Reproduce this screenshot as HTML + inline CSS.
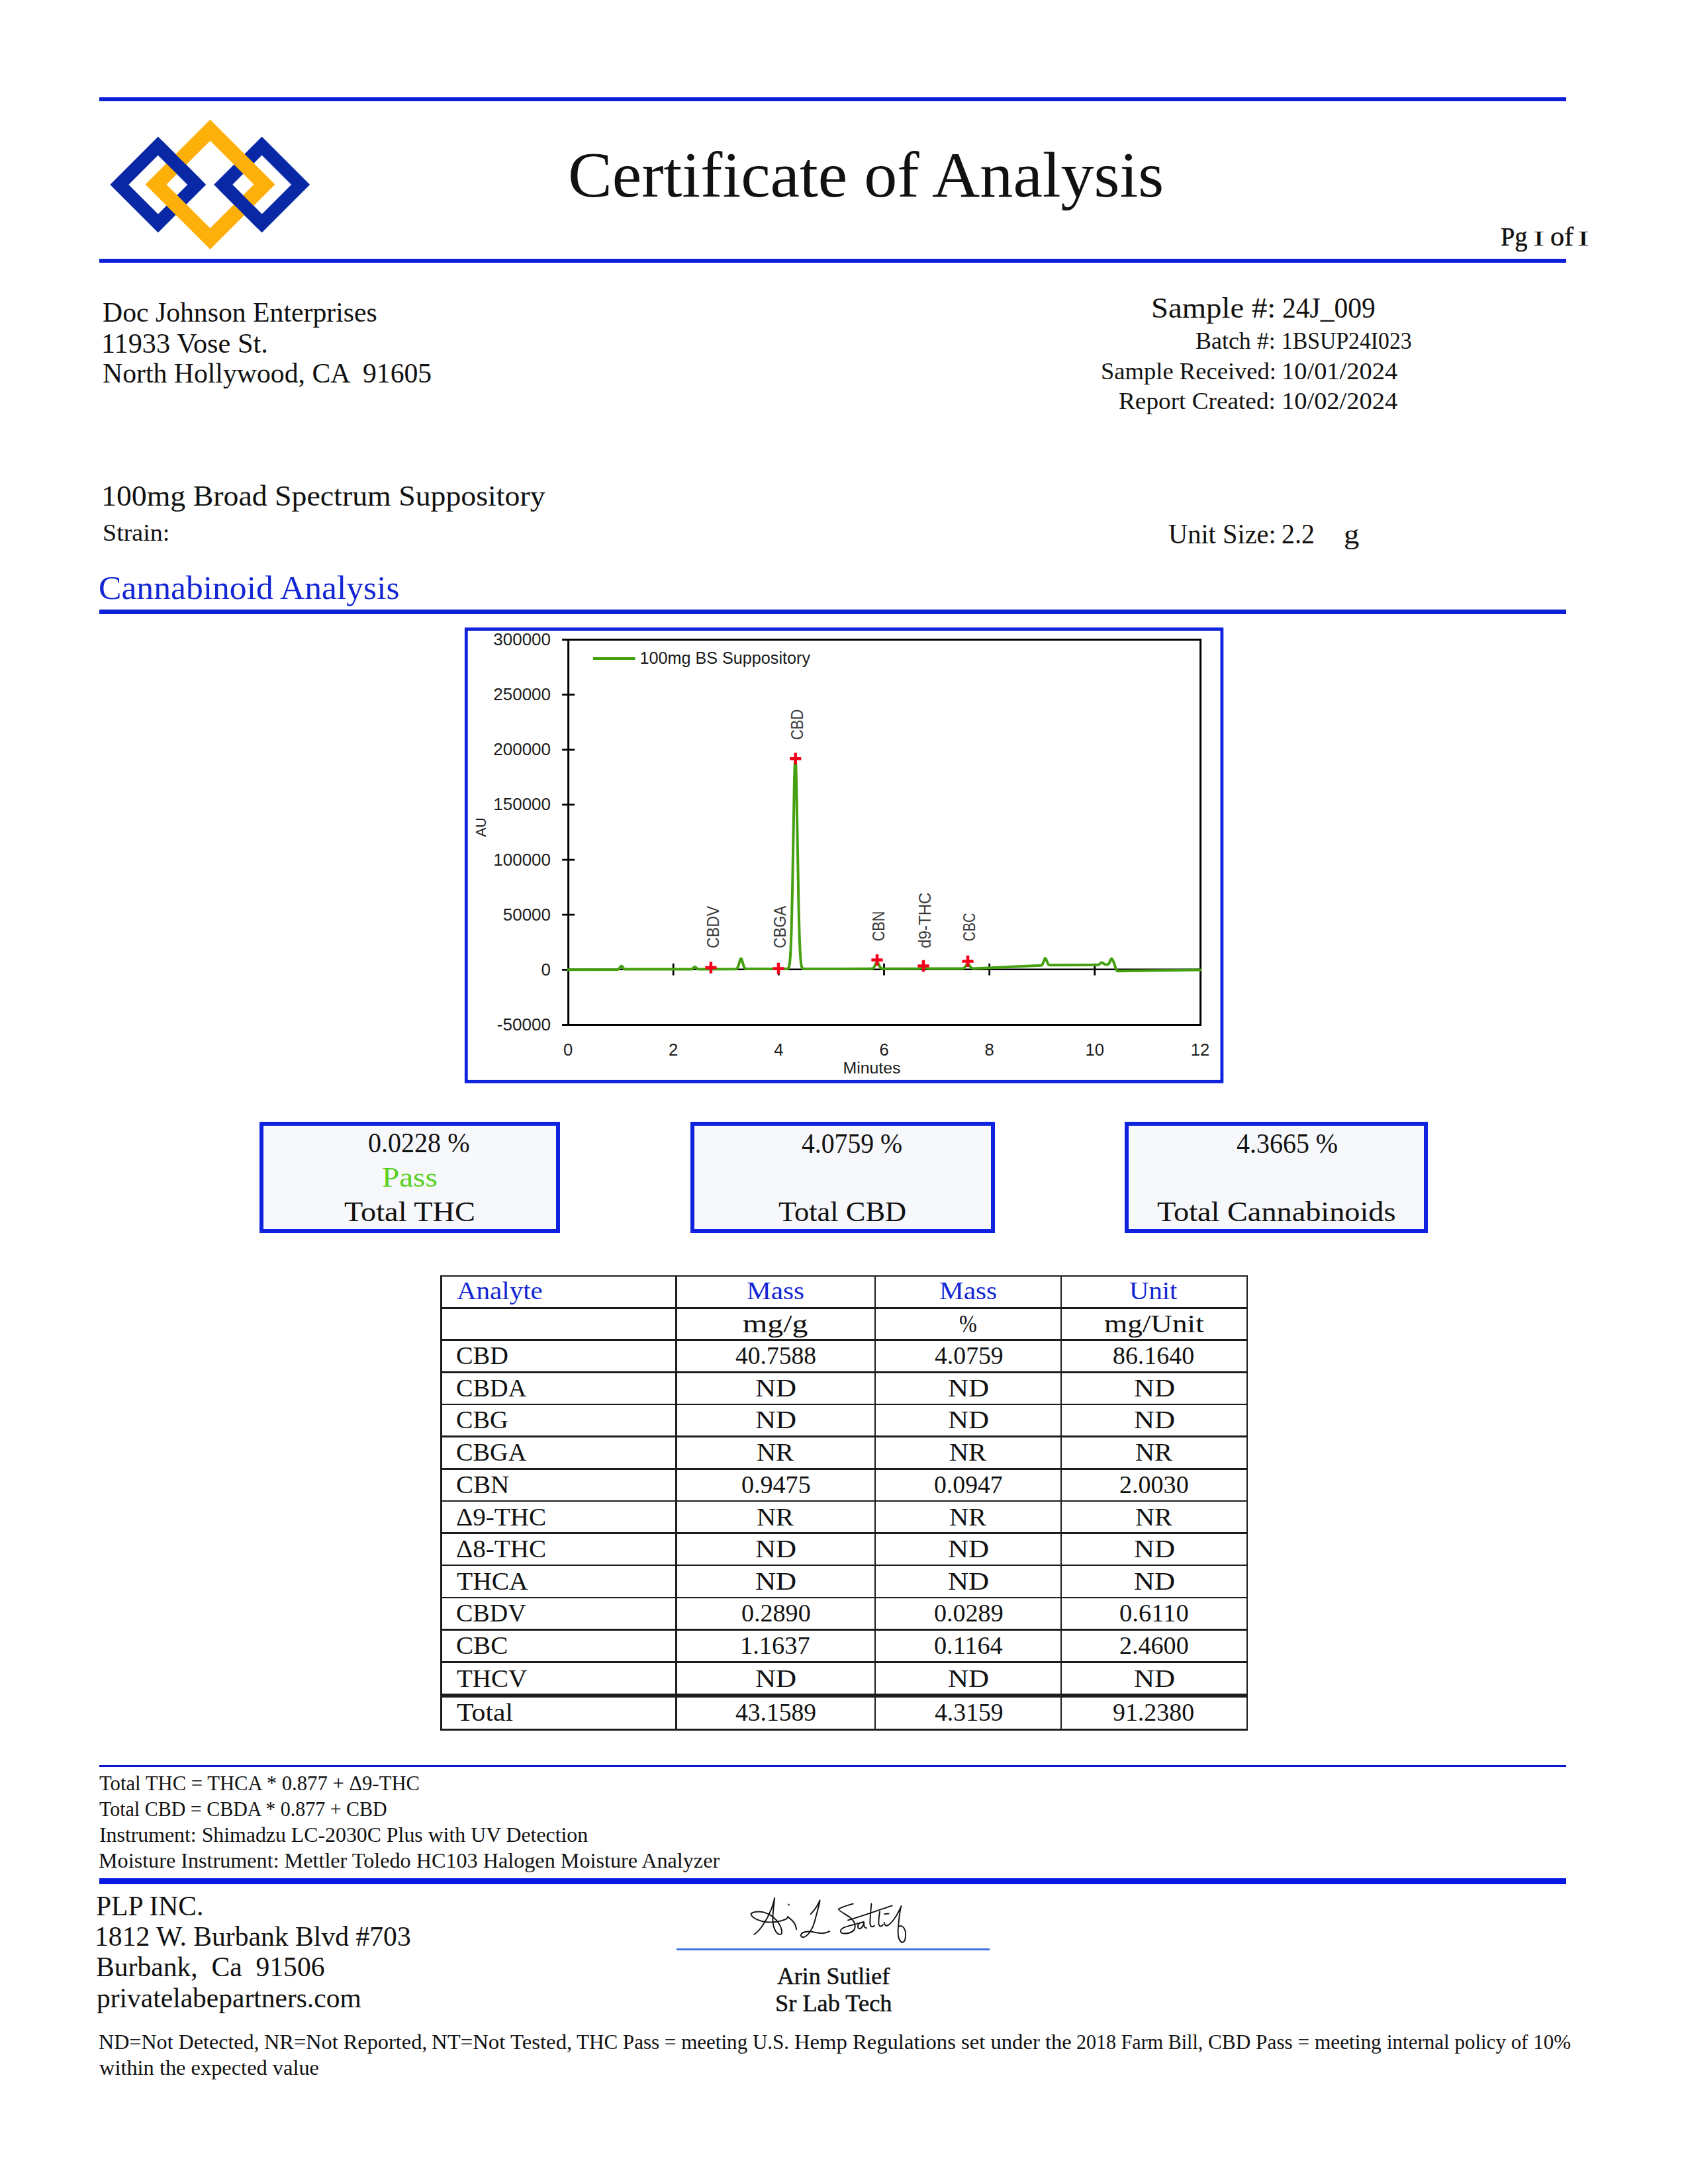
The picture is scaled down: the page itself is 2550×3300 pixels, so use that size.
<!DOCTYPE html>
<html lang="en">
<head>
<meta charset="utf-8">
<title>Certificate of Analysis</title>
<style>
html,body{margin:0;padding:0;background:#fff;}
body{width:2550px;height:3300px;position:relative;overflow:hidden;font-family:"Liberation Serif",serif;color:#111;}
.t{position:absolute;white-space:pre;line-height:1;transform-origin:0 0;}
.r{position:absolute;background:#0e1fd8;}
.k{position:absolute;background:#1c1c1c;}
.box{position:absolute;box-sizing:border-box;border:6px solid #0f22de;background:#f7f8fc;}
svg{position:absolute;left:0;top:0;}
</style>
</head>
<body>
<!-- rules -->
<div class="r" style="left:150px;top:146.7px;width:2215.5px;height:6.4px"></div>
<div class="r" style="left:150px;top:390.6px;width:2215.5px;height:6.5px"></div>
<div class="r" style="left:150px;top:921.2px;width:2215.5px;height:6.6px"></div>
<div class="r" style="left:150px;top:2666.7px;width:2215.5px;height:3.4px;background:#0c16cc"></div>
<div class="r" style="left:150px;top:2837.8px;width:2215.5px;height:9.2px;background:#0818e4"></div>
<div class="r" style="left:1021.5px;top:2943.6px;width:473px;height:3.8px;background:#3f74e6"></div>
<!-- stat boxes -->
<div class="box" style="left:392.4px;top:1695.2px;width:453.2px;height:167.6px"></div>
<div class="box" style="left:1042.7px;top:1695.2px;width:459.9px;height:167.6px"></div>
<div class="box" style="left:1698.8px;top:1695.2px;width:458.5px;height:167.6px"></div>
<!-- table lines -->
<div class="k" style="left:665.1px;top:1926.5px;width:1220.2px;height:2.5px"></div>
<div class="k" style="left:665.1px;top:1975.0px;width:1220.2px;height:2.5px"></div>
<div class="k" style="left:665.1px;top:2023.2px;width:1220.2px;height:2.5px"></div>
<div class="k" style="left:665.1px;top:2072.3px;width:1220.2px;height:2.5px"></div>
<div class="k" style="left:665.1px;top:2120.8px;width:1220.2px;height:2.5px"></div>
<div class="k" style="left:665.1px;top:2169.2px;width:1220.2px;height:2.5px"></div>
<div class="k" style="left:665.1px;top:2218.2px;width:1220.2px;height:2.5px"></div>
<div class="k" style="left:665.1px;top:2266.8px;width:1220.2px;height:2.5px"></div>
<div class="k" style="left:665.1px;top:2315.4px;width:1220.2px;height:2.5px"></div>
<div class="k" style="left:665.1px;top:2363.7px;width:1220.2px;height:2.5px"></div>
<div class="k" style="left:665.1px;top:2412.7px;width:1220.2px;height:2.5px"></div>
<div class="k" style="left:665.1px;top:2461.3px;width:1220.2px;height:2.5px"></div>
<div class="k" style="left:665.1px;top:2510.4px;width:1220.2px;height:2.5px"></div>
<div class="k" style="left:665.1px;top:2559.1px;width:1220.2px;height:5.8px"></div>
<div class="k" style="left:665.1px;top:2612.1px;width:1220.2px;height:2.5px"></div>
<div class="k" style="left:665.1px;top:1926.5px;width:2.5px;height:688.0px"></div>
<div class="k" style="left:1020.1px;top:1926.5px;width:2.5px;height:688.0px"></div>
<div class="k" style="left:1320.7px;top:1926.5px;width:2.5px;height:688.0px"></div>
<div class="k" style="left:1601.8px;top:1926.5px;width:2.5px;height:688.0px"></div>
<div class="k" style="left:1882.8px;top:1926.5px;width:2.5px;height:688.0px"></div>
<svg width="2550" height="3300" viewBox="0 0 2550 3300">
<!-- logo -->
<g fill="none" stroke-linejoin="miter" stroke-miterlimit="4">
<path id="bl" d="M238.8 220.5L297.3 279L238.8 337.5L180.3 279Z" stroke="#0828a5" stroke-width="19.8"/>
<path id="br" d="M395.6 220.5L454.1 279L395.6 337.5L337.1 279Z" stroke="#0828a5" stroke-width="19.8"/>
<path d="M317.5 196.7L399.5 278.7L317.5 360.7L235.5 278.7Z" stroke="#fdb00a" stroke-width="22.6"/>
<path d="M238.8 220.5L297.3 279" stroke="#0828a5" stroke-width="19.8"/>
<path d="M337.1 279L395.6 337.5" stroke="#0828a5" stroke-width="19.8"/>
</g>
<!-- chart -->
<rect x="704.3" y="950.6" width="1141.6" height="683.7" fill="#fff" stroke="#0f22de" stroke-width="4.8"/>
<rect x="858.6" y="966.5" width="954.9999999999999" height="582.0" fill="none" stroke="#000" stroke-width="3"/>
<path d="M858.6 1464.8H1813.6" stroke="#000" stroke-width="2.6"/>
<path d="M849.1 966.5h19M849.1 1049.6h19M849.1 1132.8h19M849.1 1215.9h19M849.1 1299.1h19M849.1 1382.2h19M849.1 1465.4h19M849.1 1548.5h19M1017.2 1455.8v18M1176.3 1455.8v18M1335.5 1455.8v18M1494.7 1455.8v18M1653.8 1455.8v18" stroke="#000" stroke-width="2.8" fill="none"/>
<g font-family="Liberation Sans, sans-serif" font-size="25.6" fill="#1a1a1a" text-anchor="end">
<text x="832" y="974.9" textLength="86.7" lengthAdjust="spacingAndGlyphs">300000</text>
<text x="832" y="1058.0" textLength="86.7" lengthAdjust="spacingAndGlyphs">250000</text>
<text x="832" y="1141.2" textLength="86.7" lengthAdjust="spacingAndGlyphs">200000</text>
<text x="832" y="1224.3" textLength="86.7" lengthAdjust="spacingAndGlyphs">150000</text>
<text x="832" y="1307.5" textLength="86.7" lengthAdjust="spacingAndGlyphs">100000</text>
<text x="832" y="1390.6" textLength="72.2" lengthAdjust="spacingAndGlyphs">50000</text>
<text x="832" y="1473.8" textLength="14.4" lengthAdjust="spacingAndGlyphs">0</text>
<text x="832" y="1556.9" textLength="81.2" lengthAdjust="spacingAndGlyphs">-50000</text>
</g>
<g font-family="Liberation Sans, sans-serif" font-size="25.6" fill="#1a1a1a" text-anchor="middle">
<text x="858.0" y="1594.6">0</text>
<text x="1017.2" y="1594.6">2</text>
<text x="1176.3" y="1594.6">4</text>
<text x="1335.5" y="1594.6">6</text>
<text x="1494.7" y="1594.6">8</text>
<text x="1653.8" y="1594.6">10</text>
<text x="1813.0" y="1594.6">12</text>
</g>
<text x="1317" y="1622" font-family="Liberation Sans, sans-serif" font-size="23.5" fill="#1a1a1a" text-anchor="middle" textLength="87" lengthAdjust="spacingAndGlyphs">Minutes</text>
<text transform="translate(733.5 1250) rotate(-90)" font-family="Liberation Sans, sans-serif" font-size="22" fill="#1a1a1a" text-anchor="middle" textLength="29" lengthAdjust="spacingAndGlyphs">AU</text>
<path d="M896 995H959.5" stroke="#45a010" stroke-width="4.2"/>
<text x="966.5" y="1003.2" font-family="Liberation Sans, sans-serif" font-size="25.6" fill="#1a1a1a" textLength="257.5" lengthAdjust="spacingAndGlyphs">100mg BS Suppository</text>
<path d="M858.0 1465.2 L933.0 1465.0 L934.0 1464.7 L935.0 1464.0 L938.0 1460.1 L938.5 1459.8 L939.0 1459.7 L939.5 1460.0 L942.5 1463.9 L943.5 1464.6 L1044.0 1464.6 L1045.5 1464.1 L1049.0 1461.3 L1049.5 1461.1 L1050.0 1461.1 L1051.0 1461.7 L1053.5 1463.8 L1055.0 1464.4 L1111.5 1464.3 L1112.5 1463.9 L1113.5 1463.2 L1114.5 1461.7 L1115.5 1459.2 L1118.0 1450.6 L1118.5 1449.3 L1119.0 1448.6 L1119.5 1448.4 L1120.0 1448.8 L1120.5 1449.8 L1123.5 1459.8 L1124.5 1462.1 L1125.5 1463.4 L1126.5 1464.0 L1189.0 1464.1 L1190.0 1463.8 L1190.5 1463.4 L1191.0 1462.8 L1191.5 1461.9 L1192.0 1460.4 L1192.5 1458.2 L1193.0 1454.9 L1193.5 1450.3 L1194.5 1435.2 L1195.5 1409.4 L1197.0 1345.8 L1200.0 1178.9 L1200.5 1160.9 L1201.0 1149.6 L1201.5 1145.8 L1202.0 1149.6 L1202.5 1160.9 L1203.5 1202.3 L1206.5 1370.3 L1207.5 1409.3 L1208.5 1435.1 L1209.5 1450.3 L1210.0 1454.9 L1210.5 1458.1 L1211.0 1460.4 L1211.5 1461.8 L1212.0 1462.8 L1212.5 1463.4 L1213.5 1464.0 L1317.0 1463.8 L1318.5 1463.3 L1319.5 1462.5 L1321.0 1460.3 L1323.5 1455.3 L1324.0 1454.5 L1324.5 1454.1 L1325.0 1453.9 L1325.5 1454.1 L1326.0 1454.5 L1329.5 1461.2 L1330.5 1462.5 L1331.5 1463.2 L1334.0 1463.8 L1388.5 1463.5 L1394.5 1461.3 L1396.0 1461.4 L1401.0 1463.4 L1454.5 1463.4 L1456.0 1462.8 L1457.5 1461.6 L1460.5 1457.5 L1461.5 1456.6 L1462.0 1456.5 L1462.5 1456.6 L1463.5 1457.5 L1466.5 1461.6 L1468.0 1462.8 L1470.0 1463.4 L1572.5 1458.8 L1573.5 1458.4 L1574.5 1457.4 L1575.5 1455.7 L1578.0 1449.2 L1578.5 1448.4 L1579.0 1448.0 L1579.5 1448.1 L1580.0 1448.8 L1583.0 1456.1 L1584.0 1457.5 L1585.0 1458.2 L1658.0 1458.1 L1660.0 1457.5 L1663.5 1454.7 L1664.5 1454.3 L1665.5 1454.6 L1668.5 1456.9 L1670.5 1457.5 L1673.0 1457.4 L1674.0 1457.1 L1675.0 1456.2 L1676.0 1454.6 L1678.0 1450.0 L1678.5 1449.1 L1679.0 1448.6 L1679.5 1448.6 L1680.0 1449.0 L1681.0 1450.8 L1683.0 1455.3 L1685.0 1461.5 L1687.5 1467.3 L1813.5 1465.6" fill="none" stroke="#45a010" stroke-width="4.0" stroke-linejoin="round" stroke-linecap="round"/>
<g font-family="Liberation Sans, sans-serif" font-size="26.5" fill="#3a3a3a">
<text transform="translate(1085.6 1432.8) rotate(-90)" textLength="64" lengthAdjust="spacingAndGlyphs">CBDV</text>
<text transform="translate(1186.6 1432.8) rotate(-90)" textLength="64" lengthAdjust="spacingAndGlyphs">CBGA</text>
<text transform="translate(1213 1118) rotate(-90)" textLength="46.2" lengthAdjust="spacingAndGlyphs">CBD</text>
<text transform="translate(1335.7 1422.2) rotate(-90)" textLength="45.5" lengthAdjust="spacingAndGlyphs">CBN</text>
<text transform="translate(1406.4 1432.8) rotate(-90)" textLength="84.2" lengthAdjust="spacingAndGlyphs">d9-THC</text>
<text transform="translate(1473 1422.2) rotate(-90)" textLength="42.7" lengthAdjust="spacingAndGlyphs">CBC</text>
</g>
<path d="M1065.3 1462.0h17.2M1073.9 1453.3v17.4M1167.4 1463.4h17.2M1176.0 1454.7v17.4M1193.1 1146.2h17.2M1201.7 1137.5v17.4M1316.4 1450.6h17.2M1325.0 1441.9v17.4M1386.4 1459.5h17.2M1395.0 1450.8v17.4M1453.4 1452.4h17.2M1462.0 1443.7v17.4" stroke="#f5001c" stroke-width="4.5" fill="none"/>

<!-- signature -->
<g transform="translate(1120 2855) scale(0.15403)" fill="none" stroke="#111" stroke-width="12.5" stroke-linecap="round" stroke-linejoin="round">
<path d="M125 440C180 410 250 300 290 200C310 150 322 110 325 82C322 150 300 250 310 330C318 390 345 440 380 442C405 440 400 390 375 345C345 295 290 245 225 225C170 212 110 218 95 238C92 262 140 298 215 315C290 328 380 318 435 292C450 285 458 272 456 266"/>
<path d="M456 268C475 285 505 300 525 340C535 360 538 380 540 392"/>
<path d="M462 146L468 152"/>
<path d="M680 240C720 200 755 140 770 106C765 150 740 230 718 315C700 385 660 450 612 468C585 472 575 450 590 432C620 408 680 408 740 424C790 436 840 425 865 410"/>
<path d="M1095 140C1040 155 975 178 952 192C950 205 1000 230 1060 270C1105 305 1125 350 1108 392C1085 425 1030 440 985 428C965 415 968 395 1000 375C1060 350 1130 338 1200 318"/>
<path d="M1045 302C1180 262 1340 205 1478 158"/>
<path d="M1155 335C1135 355 1140 385 1162 385C1185 375 1198 345 1202 325C1198 355 1205 380 1228 378"/>
<path d="M1275 140C1270 190 1262 270 1262 335C1265 370 1285 372 1305 355"/>
<path d="M1357 218C1350 260 1343 310 1348 345C1358 370 1375 362 1390 345"/>
<path d="M1400 325C1405 350 1418 365 1440 350C1470 330 1520 270 1550 200C1562 175 1572 160 1568 162C1555 200 1545 290 1538 370C1532 440 1540 500 1575 520C1605 520 1615 470 1610 420C1600 370 1570 345 1545 362"/>
<path d="M1405 240L1445 237"/>
</g>
</svg>
<div class="t" style="left:857.88px;top:216.88px;font-size:96.5px;transform:scaleX(1.0369)">Certificate of Analysis</div>
<div class="t" style="left:2267.20px;top:338.63px;font-size:39.37px;transform:scaleX(0.9743);-webkit-text-stroke:0.4px #111">Pg</div>
<div class="t" style="left:2316.45px;top:346.04px;font-size:30.52px;transform:scaleX(1.7040)">I</div>
<div class="t" style="left:2341.93px;top:338.63px;font-size:39.37px;transform:scaleX(1.0728);-webkit-text-stroke:0.4px #111">of</div>
<div class="t" style="left:2383.01px;top:346.04px;font-size:30.52px;transform:scaleX(1.7520)">I</div>
<div class="t" style="left:155.03px;top:450.43px;font-size:43.19px;transform:scaleX(0.9659)">Doc Johnson Enterprises</div>
<div class="t" style="left:153.06px;top:496.83px;font-size:43.19px;transform:scaleX(0.9787)">11933 Vose St.</div>
<div class="t" style="left:155.03px;top:542.13px;font-size:43.19px;transform:scaleX(0.9661)">North Hollywood, CA  91605</div>
<div class="t" style="left:1738.85px;top:444.05px;font-size:43.64px;transform:scaleX(1.0717)">Sample #:</div>
<div class="t" style="left:1937.25px;top:444.05px;font-size:43.64px;transform:scaleX(0.9518)">24J_009</div>
<div class="t" style="left:1805.99px;top:498.22px;font-size:35.56px;transform:scaleX(1.0107)">Batch #:</div>
<div class="t" style="left:1935.95px;top:498.22px;font-size:35.56px;transform:scaleX(0.9478)">1BSUP24I023</div>
<div class="t" style="left:1662.74px;top:544.22px;font-size:35.56px;transform:scaleX(1.0287)">Sample Received:</div>
<div class="t" style="left:1935.55px;top:544.22px;font-size:35.56px;transform:scaleX(1.0819)">10/01/2024</div>
<div class="t" style="left:1689.95px;top:589.42px;font-size:35.56px;transform:scaleX(1.0479)">Report Created:</div>
<div class="t" style="left:1935.55px;top:589.42px;font-size:35.56px;transform:scaleX(1.0819)">10/02/2024</div>
<div class="t" style="left:153.49px;top:727.54px;font-size:44.25px;transform:scaleX(1.0353)">100mg Broad Spectrum Suppository</div>
<div class="t" style="left:154.92px;top:787.13px;font-size:36.62px;transform:scaleX(1.0384)">Strain:</div>
<div class="t" style="left:1765.00px;top:786.41px;font-size:42.73px;transform:scaleX(0.9458)">Unit Size:</div>
<div class="t" style="left:1936.27px;top:786.41px;font-size:42.73px;transform:scaleX(0.9356)">2.2</div>
<div class="t" style="left:2029.90px;top:786.41px;font-size:42.73px;transform:scaleX(1.0938)">g</div>
<div class="t" style="left:148.58px;top:862.26px;font-size:51.27px;transform:scaleX(1.0070);color:#1226d4">Cannabinoid Analysis</div>
<div class="t" style="left:555.66px;top:1706.21px;font-size:42.73px;transform:scaleX(0.9374)">0.0228 %</div>
<div class="t" style="left:576.90px;top:1757.91px;font-size:42.73px;transform:scaleX(1.1031);color:#5ad020">Pass</div>
<div class="t" style="left:520.40px;top:1810.21px;font-size:42.73px;transform:scaleX(1.0848)">Total THC</div>
<div class="t" style="left:1211.00px;top:1706.71px;font-size:42.73px;transform:scaleX(0.9292)">4.0759 %</div>
<div class="t" style="left:1175.80px;top:1810.21px;font-size:42.73px;transform:scaleX(1.0399)">Total CBD</div>
<div class="t" style="left:1868.20px;top:1706.71px;font-size:42.73px;transform:scaleX(0.9353)">4.3665 %</div>
<div class="t" style="left:1747.80px;top:1810.21px;font-size:42.73px;transform:scaleX(1.0832)">Total Cannabinoids</div>
<div class="t" style="left:149.80px;top:2678.85px;font-size:30.98px;transform:scaleX(0.9908)">Total THC = THCA * 0.877 + Δ9-THC</div>
<div class="t" style="left:149.80px;top:2717.95px;font-size:30.98px;transform:scaleX(0.9678)">Total CBD = CBDA * 0.877 + CBD</div>
<div class="t" style="left:149.77px;top:2757.05px;font-size:30.98px;transform:scaleX(1.0273)">Instrument: Shimadzu LC-2030C Plus with UV Detection</div>
<div class="t" style="left:148.80px;top:2796.05px;font-size:30.98px;transform:scaleX(1.0390)">Moisture Instrument: Mettler Toledo HC103 Halogen Moisture Analyzer</div>
<div class="t" style="left:145.42px;top:2859.00px;font-size:42.27px;transform:scaleX(0.9831)">PLP INC.</div>
<div class="t" style="left:143.45px;top:2904.80px;font-size:42.27px;transform:scaleX(0.9852)">1812 W. Burbank Blvd #703</div>
<div class="t" style="left:145.42px;top:2951.20px;font-size:42.27px;transform:scaleX(0.9843)">Burbank,  Ca  91506</div>
<div class="t" style="left:146.40px;top:2997.60px;font-size:42.27px;transform:scaleX(0.9815)">privatelabepartners.com</div>
<div class="t" style="left:1174.00px;top:2968.21px;font-size:36.17px;transform:scaleX(0.9903);-webkit-text-stroke:0.5px #111">Arin Sutlief</div>
<div class="t" style="left:1170.99px;top:3009.21px;font-size:36.17px;transform:scaleX(1.0052);-webkit-text-stroke:0.5px #111">Sr Lab Tech</div>
<div class="t" style="left:149.40px;top:3069.75px;font-size:30.98px;transform:scaleX(1.0360)">ND=Not Detected,</div>
<div class="t" style="left:398.60px;top:3069.75px;font-size:30.98px;transform:scaleX(1.0444)">NR=Not Reported,</div>
<div class="t" style="left:652.19px;top:3069.75px;font-size:30.98px;transform:scaleX(1.0586)">NT=Not Tested,</div>
<div class="t" style="left:870.80px;top:3069.75px;font-size:30.98px;transform:scaleX(1.0027)">THC Pass = meeting U.S.</div>
<div class="t" style="left:1200.20px;top:3069.75px;font-size:30.98px;transform:scaleX(1.0540)">Hemp Regulations set under the</div>
<div class="t" style="left:1626.03px;top:3069.75px;font-size:30.98px;transform:scaleX(0.9709)">2018 Farm Bill,</div>
<div class="t" style="left:1824.59px;top:3069.75px;font-size:30.98px;transform:scaleX(1.0097)">CBD Pass = meeting</div>
<div class="t" style="left:2094.80px;top:3069.75px;font-size:30.98px;transform:scaleX(1.0008)">internal policy of 10%</div>
<div class="t" style="left:150.40px;top:3108.85px;font-size:30.98px;transform:scaleX(1.0462)">within the expected value</div>
<div class="t" style="left:689.80px;top:1931.46px;font-size:38.61px;transform:scaleX(1.0621);color:#1226d4">Analyte</div>
<div class="t" style="left:1127.83px;top:1931.46px;font-size:38.61px;transform:scaleX(1.0693);color:#1226d4">Mass</div>
<div class="t" style="left:1418.63px;top:1931.46px;font-size:38.61px;transform:scaleX(1.0693);color:#1226d4">Mass</div>
<div class="t" style="left:1706.49px;top:1931.46px;font-size:38.61px;transform:scaleX(1.0537);color:#1226d4">Unit</div>
<div class="t" style="left:1121.89px;top:1980.56px;font-size:38.61px;transform:scaleX(1.2396)">mg/g</div>
<div class="t" style="left:1448.87px;top:1980.56px;font-size:38.61px;transform:scaleX(0.8333)">%</div>
<div class="t" style="left:1667.79px;top:1980.56px;font-size:38.61px;transform:scaleX(1.1709)">mg/Unit</div>
<div class="t" style="left:688.81px;top:2029.16px;font-size:38.61px;transform:scaleX(0.9935)">CBD</div>
<div class="t" style="left:1111.00px;top:2029.16px;font-size:38.61px;transform:scaleX(0.9729)">40.7588</div>
<div class="t" style="left:1411.50px;top:2029.16px;font-size:38.61px;transform:scaleX(0.9765)">4.0759</div>
<div class="t" style="left:1681.42px;top:2029.16px;font-size:38.61px;transform:scaleX(0.9808)">86.1640</div>
<div class="t" style="left:688.81px;top:2077.96px;font-size:38.61px;transform:scaleX(0.9907)">CBDA</div>
<div class="t" style="left:1140.78px;top:2077.96px;font-size:38.61px;transform:scaleX(1.1138)">ND</div>
<div class="t" style="left:1431.58px;top:2077.96px;font-size:38.61px;transform:scaleX(1.1138)">ND</div>
<div class="t" style="left:1712.68px;top:2077.96px;font-size:38.61px;transform:scaleX(1.1138)">ND</div>
<div class="t" style="left:688.81px;top:2126.26px;font-size:38.61px;transform:scaleX(0.9884)">CBG</div>
<div class="t" style="left:1140.78px;top:2126.26px;font-size:38.61px;transform:scaleX(1.1138)">ND</div>
<div class="t" style="left:1431.58px;top:2126.26px;font-size:38.61px;transform:scaleX(1.1138)">ND</div>
<div class="t" style="left:1712.68px;top:2126.26px;font-size:38.61px;transform:scaleX(1.1138)">ND</div>
<div class="t" style="left:688.81px;top:2174.86px;font-size:38.61px;transform:scaleX(0.9907)">CBGA</div>
<div class="t" style="left:1143.26px;top:2174.86px;font-size:38.61px;transform:scaleX(1.0440)">NR</div>
<div class="t" style="left:1434.06px;top:2174.86px;font-size:38.61px;transform:scaleX(1.0440)">NR</div>
<div class="t" style="left:1715.16px;top:2174.86px;font-size:38.61px;transform:scaleX(1.0440)">NR</div>
<div class="t" style="left:688.79px;top:2223.86px;font-size:38.61px;transform:scaleX(1.0116)">CBN</div>
<div class="t" style="left:1119.71px;top:2223.86px;font-size:38.61px;transform:scaleX(0.9859)">0.9475</div>
<div class="t" style="left:1410.52px;top:2223.86px;font-size:38.61px;transform:scaleX(0.9765)">0.0947</div>
<div class="t" style="left:1691.11px;top:2223.86px;font-size:38.61px;transform:scaleX(0.9859)">2.0030</div>
<div class="t" style="left:688.79px;top:2272.66px;font-size:38.61px;transform:scaleX(1.0148)">Δ9-THC</div>
<div class="t" style="left:1143.26px;top:2272.66px;font-size:38.61px;transform:scaleX(1.0440)">NR</div>
<div class="t" style="left:1434.06px;top:2272.66px;font-size:38.61px;transform:scaleX(1.0440)">NR</div>
<div class="t" style="left:1715.16px;top:2272.66px;font-size:38.61px;transform:scaleX(1.0440)">NR</div>
<div class="t" style="left:688.79px;top:2321.26px;font-size:38.61px;transform:scaleX(1.0148)">Δ8-THC</div>
<div class="t" style="left:1140.78px;top:2321.26px;font-size:38.61px;transform:scaleX(1.1138)">ND</div>
<div class="t" style="left:1431.58px;top:2321.26px;font-size:38.61px;transform:scaleX(1.1138)">ND</div>
<div class="t" style="left:1712.68px;top:2321.26px;font-size:38.61px;transform:scaleX(1.1138)">ND</div>
<div class="t" style="left:689.80px;top:2370.16px;font-size:38.61px;transform:scaleX(1.0246)">THCA</div>
<div class="t" style="left:1140.78px;top:2370.16px;font-size:38.61px;transform:scaleX(1.1138)">ND</div>
<div class="t" style="left:1431.58px;top:2370.16px;font-size:38.61px;transform:scaleX(1.1138)">ND</div>
<div class="t" style="left:1712.68px;top:2370.16px;font-size:38.61px;transform:scaleX(1.1138)">ND</div>
<div class="t" style="left:688.81px;top:2418.46px;font-size:38.61px;transform:scaleX(0.9851)">CBDV</div>
<div class="t" style="left:1119.71px;top:2418.46px;font-size:38.61px;transform:scaleX(0.9859)">0.2890</div>
<div class="t" style="left:1410.51px;top:2418.46px;font-size:38.61px;transform:scaleX(0.9859)">0.0289</div>
<div class="t" style="left:1691.09px;top:2418.46px;font-size:38.61px;transform:scaleX(0.9997)">0.6110</div>
<div class="t" style="left:688.79px;top:2467.16px;font-size:38.61px;transform:scaleX(1.0121)">CBC</div>
<div class="t" style="left:1117.71px;top:2467.16px;font-size:38.61px;transform:scaleX(0.9955)">1.1637</div>
<div class="t" style="left:1410.51px;top:2467.16px;font-size:38.61px;transform:scaleX(0.9900)">0.1164</div>
<div class="t" style="left:1691.11px;top:2467.16px;font-size:38.61px;transform:scaleX(0.9859)">2.4600</div>
<div class="t" style="left:689.80px;top:2516.96px;font-size:38.61px;transform:scaleX(1.0113)">THCV</div>
<div class="t" style="left:1140.78px;top:2516.96px;font-size:38.61px;transform:scaleX(1.1138)">ND</div>
<div class="t" style="left:1431.58px;top:2516.96px;font-size:38.61px;transform:scaleX(1.1138)">ND</div>
<div class="t" style="left:1712.68px;top:2516.96px;font-size:38.61px;transform:scaleX(1.1138)">ND</div>
<div class="t" style="left:689.80px;top:2568.16px;font-size:38.61px;transform:scaleX(1.0813)">Total</div>
<div class="t" style="left:1111.00px;top:2568.16px;font-size:38.61px;transform:scaleX(0.9729)">43.1589</div>
<div class="t" style="left:1411.50px;top:2568.16px;font-size:38.61px;transform:scaleX(0.9765)">4.3159</div>
<div class="t" style="left:1681.42px;top:2568.16px;font-size:38.61px;transform:scaleX(0.9808)">91.2380</div>
</body>
</html>
